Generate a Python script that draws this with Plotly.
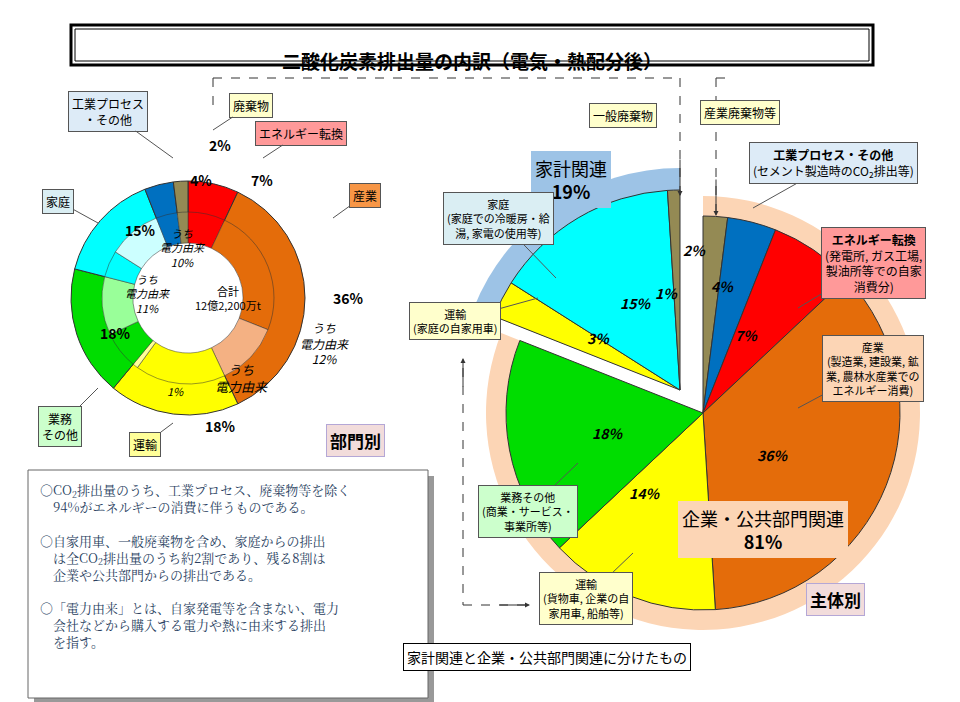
import plotly.graph_objects as go

W, H = 960, 702

def P(x, y):
    return x / W, 1 - y / H

# ---- data ----
left_labels = ["エネルギー転換", "産業", "運輸", "業務その他", "家庭", "工業プロセス・その他", "廃棄物"]
left_values = [7, 36, 18, 18, 15, 4, 2]
left_colors = ["#FF0000", "#E46C0A", "#FFFF00", "#00DD00", "#00FFFF", "#0070C0", "#948A54"]

inner_labels = ["エネルギー転換", "産業", "産業(電力由来)", "運輸", "運輸(電力由来)",
                "業務その他", "業務(電力由来)", "家庭", "家庭(電力由来)", "工業プロセス", "廃棄物"]
inner_values = [7, 24, 12, 17, 1, 7, 11, 5, 10, 4, 2]
inner_colors = ["#FF0000", "#E46C0A", "#F4B183", "#FFFF00", "#FFFF99",
                "#00DD00", "#99FF99", "#00FFFF", "#CCFFFF", "#0070C0", "#948A54"]

right_labels = ["産業廃棄物等", "工業プロセス・その他", "エネルギー転換", "産業", "運輸(企業)",
                "業務その他", "運輸(家庭)", "家庭", "一般廃棄物"]
right_values = [2, 4, 7, 36, 14, 18, 3, 15, 1]
right_colors = ["#948A54", "#0070C0", "#FF0000", "#E46C0A", "#FFFF00",
                "#00DD00", "#FFFF00", "#00FFFF", "#948A54"]
household = [False, False, False, False, False, False, True, True, True]

group_values = [81, 19]
group_colors = ["#FCD5B5", "#9DC3E6"]

fig = go.Figure()

def dom(cx, cy, r):
    return dict(x=[(cx - r) / W, (cx + r) / W], y=[1 - (cy + r) / H, 1 - (cy - r) / H])

pie_common = dict(sort=False, direction="clockwise", rotation=0, textinfo="none",
                  hoverinfo="label+percent", showlegend=False)

# left donut
fig.add_trace(go.Pie(values=left_values, labels=left_labels, hole=0.72,
                     marker=dict(colors=left_colors, line=dict(color="#333", width=1)),
                     domain=dom(180, 290, 117), **pie_common))
fig.add_trace(go.Pie(values=inner_values, labels=inner_labels, hole=0.64,
                     marker=dict(colors=inner_colors, line=dict(color="#333", width=0.5)),
                     domain=dom(180, 290, 86), **pie_common))

# right: group rings
fig.add_trace(go.Pie(values=group_values, labels=["企業・公共部門関連", "家計関連"],
                     marker=dict(colors=[group_colors[0], "rgba(0,0,0,0)"], line=dict(width=0)),
                     domain=dom(695, 405, 217), **pie_common))
fig.add_trace(go.Pie(values=group_values, labels=["企業・公共部門関連", "家計関連"],
                     marker=dict(colors=["rgba(0,0,0,0)", group_colors[1]], line=dict(width=0)),
                     domain=dom(672, 382, 222), **pie_common))
# right: corporate part
fig.add_trace(go.Pie(values=right_values, labels=right_labels,
                     marker=dict(colors=["rgba(0,0,0,0)" if h else c for c, h in zip(right_colors, household)],
                                 line=dict(color=["rgba(0,0,0,0)" if h else "#333" for h in household], width=1)),
                     domain=dom(695, 405, 197), **pie_common))
# right: household part, shifted out
fig.add_trace(go.Pie(values=right_values, labels=right_labels,
                     marker=dict(colors=[c if h else "rgba(0,0,0,0)" for c, h in zip(right_colors, household)],
                                 line=dict(color=["#333" if h else "rgba(0,0,0,0)" for h in household], width=1)),
                     domain=dom(672, 382, 200), **pie_common))

FONT = "Noto Sans CJK JP"
ann = []

def txt(t, x, y, size=13, bold=False, italic=False, color="black", **kw):
    if bold:
        t = "<b>" + t + "</b>"
    if italic:
        t = "<i>" + t + "</i>"
    px, py = P(x, y)
    ann.append(dict(text=t, x=px, y=py, xref="paper", yref="paper", showarrow=False,
                    font=dict(family=FONT, size=size, color=color), **kw))

def box(t, x, y, bg, size=12, border="#555", tx=None, ty=None, bold=False):
    if bold:
        t = "<b>" + t + "</b>"
    px, py = P(x, y)
    a = dict(text=t, x=px, y=py, xref="paper", yref="paper",
             font=dict(family=FONT, size=size, color="black"),
             bgcolor=bg, bordercolor=border, borderwidth=1, borderpad=3, showarrow=False)
    if tx is not None:
        # pointer from box to target
        a.update(showarrow=True, arrowhead=0, arrowcolor="#555", arrowwidth=1,
                 x=tx / W, y=1 - ty / H, ax=x - tx, ay=y - ty)
    ann.append(a)

# title
txt("二酸化炭素排出量の内訳（電気・熱配分後）", 464, 37, size=19, bold=True)

# left donut numbers
for t, x, y in [("7%", 241, 160), ("36%", 340, 290), ("18%", 195, 418), ("18%", 90, 325),
                ("15%", 115, 210), ("4%", 180, 160), ("2%", 199, 125)]:
    txt(t, x, y, size=14, bold=True)
txt("うち<br>電力由来<br>10%", 150, 215, size=11, italic=True)
txt("うち<br>電力由来<br>11%", 115, 285, size=11, italic=True)
txt("うち<br>電力由来<br>12%", 290, 335, size=12, italic=True)
txt("うち<br>電力由来", 205, 370, size=13, italic=True)
txt("1%", 157, 383, size=11, italic=True)
txt("合計<br>12億2,200万t", 185, 290, size=11)

box("工業プロセス<br>・その他", 100, 103, "#DDEBF7", tx=165, ty=150)
box("廃棄物", 243, 97, "#FFFFCC", tx=205, ty=122)
box("エネルギー転換", 293, 125, "#FF9999", tx=255, ty=150)
box("産業", 357, 187, "#F79646", tx=325, ty=210)
box("家庭", 50, 193, "#DAEEF3", tx=90, ty=215)
box("業務<br>その他", 52, 418, "#CCFFCC", tx=90, ty=380)
box("運輸", 137, 436, "#FFFF99", tx=165, ty=415)
box("部門別", 347, 432, "#F2DCDB", size=17, border="#B4A7D6", bold=True)
box("主体別", 857, 608, "#F2DCDB", size=17, border="#B4A7D6", bold=True)

# right numbers
for t, x, y in [("2%", 700, 242), ("4%", 728, 278), ("7%", 752, 327), ("36%", 783, 447),
                ("14%", 655, 497), ("18%", 600, 425), ("3%", 590, 330), ("15%", 628, 295), ("1%", 672, 285)]:
    txt(t, x, y, size=14, bold=True, italic=True)

box("一般廃棄物", 615, 95, "#FFFFCC", size=12)
box("産業廃棄物等", 772, 92, "#FFFFCC", size=12)
box("家計関連<br><b>19%</b>", 563, 143, "#9DC3E6", size=18, border="#9DC3E6")
box("<b>工業プロセス・その他</b><br>(セメント製造時のCO<sub>2</sub>排出等)", 825, 155, "#DDEBF7", size=12, tx=745, ty=200)
box("<b>エネルギー転換</b><br>(発電所, ガス工場,<br>製油所等での自家<br>消費分)", 865, 255, "#FF9999", size=12, tx=790, ty=300)
box("産業<br>(製造業, 建設業, 鉱<br>業, 農林水産業での<br>エネルギー消費)", 865, 360, "#FCD5B5", size=11, tx=790, ty=400)
box("家庭<br>(家庭での冷暖房・給<br>湯, 家電の使用等)", 490, 210, "#DAEEF3", size=11, tx=548, ty=270)
box("運輸<br>(家庭の自家用車)", 447, 313, "#FFFFCC", size=11, tx=530, ty=290)
box("業務その他<br>(商業・サービス・<br>事業所等)", 520, 503, "#CCFFCC", size=11, tx=570, ty=455)
box("運輸<br>(貨物車, 企業の自<br>家用車, 船舶等)", 578, 590, "#FFFFCC", size=11, tx=625, ty=545)
box("企業・公共部門関連<br><b>81%</b>", 840, 550, "#FCD5B5", size=18, border="#FCD5B5")
box("家計関連と企業・公共部門関連に分けたもの", 683, 663, "white", size=14, border="black")

# notes
note = ("○CO<sub>2</sub>排出量のうち、工業プロセス、廃棄物等を除く<br>　94%がエネルギーの消費に伴うものである。<br><br>"
        "○自家用車、一般廃棄物を含め、家庭からの排出<br>　は全CO<sub>2</sub>排出量のうち約2割であり、残る8割は<br>　企業や公共部門からの排出である。<br><br>"
        "○「電力由来」とは、自家発電等を含まない、電力<br>　会社などから購入する電力や熱に由来する排出<br>　を指す。")
px, py = P(30, 470)
ann.append(dict(text=note, x=px, y=py, xref="paper", yref="paper", xanchor="left", yanchor="top",
                align="left", showarrow=False, font=dict(family="Noto Serif CJK JP, serif", size=13)))

# dashed arrow heads
for x0, y0, x1, y1 in [(672, 150, 672, 188), (708, 170, 708, 208), (490, 597, 522, 597), (455, 380, 455, 350)]:
    ann.append(dict(x=x1 / W, y=1 - y1 / H, ax=x0 - x1, ay=y0 - y1, xref="paper", yref="paper",
                    showarrow=True, arrowhead=2, arrowsize=1,
                    arrowwidth=1, arrowcolor="#333", text=""))

shapes = [
    dict(type="rect", x0=P(63, 0)[0], x1=P(865, 0)[0], y0=P(0, 17)[1], y1=P(0, 57)[1],
         xref="paper", yref="paper", line=dict(color="black", width=3)),
    dict(type="rect", x0=P(67, 0)[0], x1=P(861, 0)[0], y0=P(0, 21)[1], y1=P(0, 53)[1],
         xref="paper", yref="paper", line=dict(color="black", width=1)),
    dict(type="rect", x0=P(26, 0)[0], x1=P(426, 0)[0], y0=P(0, 468)[1], y1=P(0, 696)[1],
         xref="paper", yref="paper", line=dict(width=0), fillcolor="#999", layer="below"),
    dict(type="rect", x0=P(20, 0)[0], x1=P(420, 0)[0], y0=P(0, 462)[1], y1=P(0, 690)[1],
         xref="paper", yref="paper", line=dict(color="#666", width=1), fillcolor="white", layer="below"),
]
dash = dict(color="#333", width=1, dash="dash")
for x0, y0, x1, y1 in [(205, 70, 672, 70), (205, 70, 205, 98), (672, 70, 672, 188),
                       (708, 70, 708, 208), (708, 70, 720, 70), (455, 360, 455, 597), (455, 597, 520, 597)]:
    shapes.append(dict(type="line", x0=x0 / W, x1=x1 / W, y0=1 - y0 / H, y1=1 - y1 / H,
                       xref="paper", yref="paper", line=dash))

fig.update_layout(width=W, height=H, margin=dict(l=0, r=0, t=0, b=0),
                  paper_bgcolor="white", plot_bgcolor="white",
                  annotations=ann, shapes=shapes, font=dict(family=FONT))

fig.write_html("out.html")
